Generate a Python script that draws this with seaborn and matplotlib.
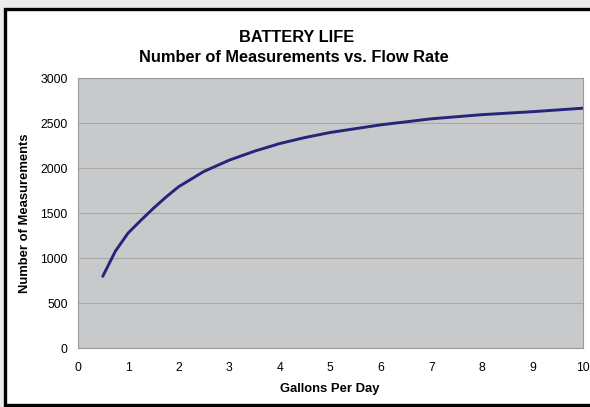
import matplotlib
matplotlib.use("Agg")
import matplotlib.pyplot as plt
import seaborn as sns
import pandas as pd
from matplotlib.patches import Rectangle

# Valeurs
gallons = [0.5, 0.75, 1, 1.25, 1.5, 1.75, 2, 2.5, 3, 3.5, 4, 4.5, 5, 6, 7, 8, 9, 10]
measurements = [800, 1080, 1280, 1420, 1555, 1680, 1795, 1965, 2090, 2190, 2275, 2342,
                2398, 2483, 2550, 2596, 2629, 2668]
x_ticks = [0, 1, 2, 3, 4, 5, 6, 7, 8, 9, 10]
y_ticks = [0, 500, 1000, 1500, 2000, 2500, 3000]

df = pd.DataFrame({"Gallons": gallons, "Measurements": measurements})

sns.set_style("white")
plt.rcParams["font.family"] = ["Liberation Sans", "DejaVu Sans"]
plt.rcParams["text.color"] = "black"
plt.rcParams["axes.labelcolor"] = "black"

fig = plt.figure(figsize=(5.9, 4.07), dpi=100, facecolor="#ebebed")

# Cadre noir du graphique
frame = Rectangle((5 / 590, 2 / 407), 1.0, 396 / 407, transform=fig.transFigure,
                  facecolor="white", edgecolor="black", linewidth=2.4, zorder=0)
fig.patches.append(frame)

ax = fig.add_axes([77.5 / 590, 58.7 / 407, 505.5 / 590, 270 / 407])
ax.set_zorder(2)
ax.set_facecolor("#c8c9cb")

sns.lineplot(data=df, x="Gallons", y="Measurements", ax=ax, color="#25257a", linewidth=2.1)

ax.set_xlim(0, 10)
ax.set_ylim(0, 3000)
ax.set_xticks(x_ticks)
ax.set_yticks(y_ticks)
ax.grid(axis="y", color="#a9a9a9", linewidth=0.8)
ax.set_axisbelow(True)
for s in ax.spines.values():
    s.set_color("#9a9a9a")
    s.set_linewidth(0.8)
ax.tick_params(axis="both", direction="out", length=4, width=0.8, color="#8a8a8a",
               labelsize=8.8, labelcolor="black", pad=3)
ax.tick_params(axis="x", pad=6)

ax.set_xlabel("Gallons Per Day", fontsize=9.4, fontweight="bold", labelpad=6)
ax.set_ylabel("Number of Measurements", fontsize=9.4, fontweight="bold", labelpad=7)

fig.text(297 / 590, 1 - 37 / 407, "BATTERY LIFE", ha="center", va="center",
         fontsize=11.8, fontweight="bold", zorder=3)
fig.text(294 / 590, 1 - 58 / 407, "Number of Measurements vs. Flow Rate", ha="center",
         va="center", fontsize=11.8, fontweight="bold", zorder=3)

fig.savefig("out.png", dpi=100, facecolor=fig.get_facecolor())
